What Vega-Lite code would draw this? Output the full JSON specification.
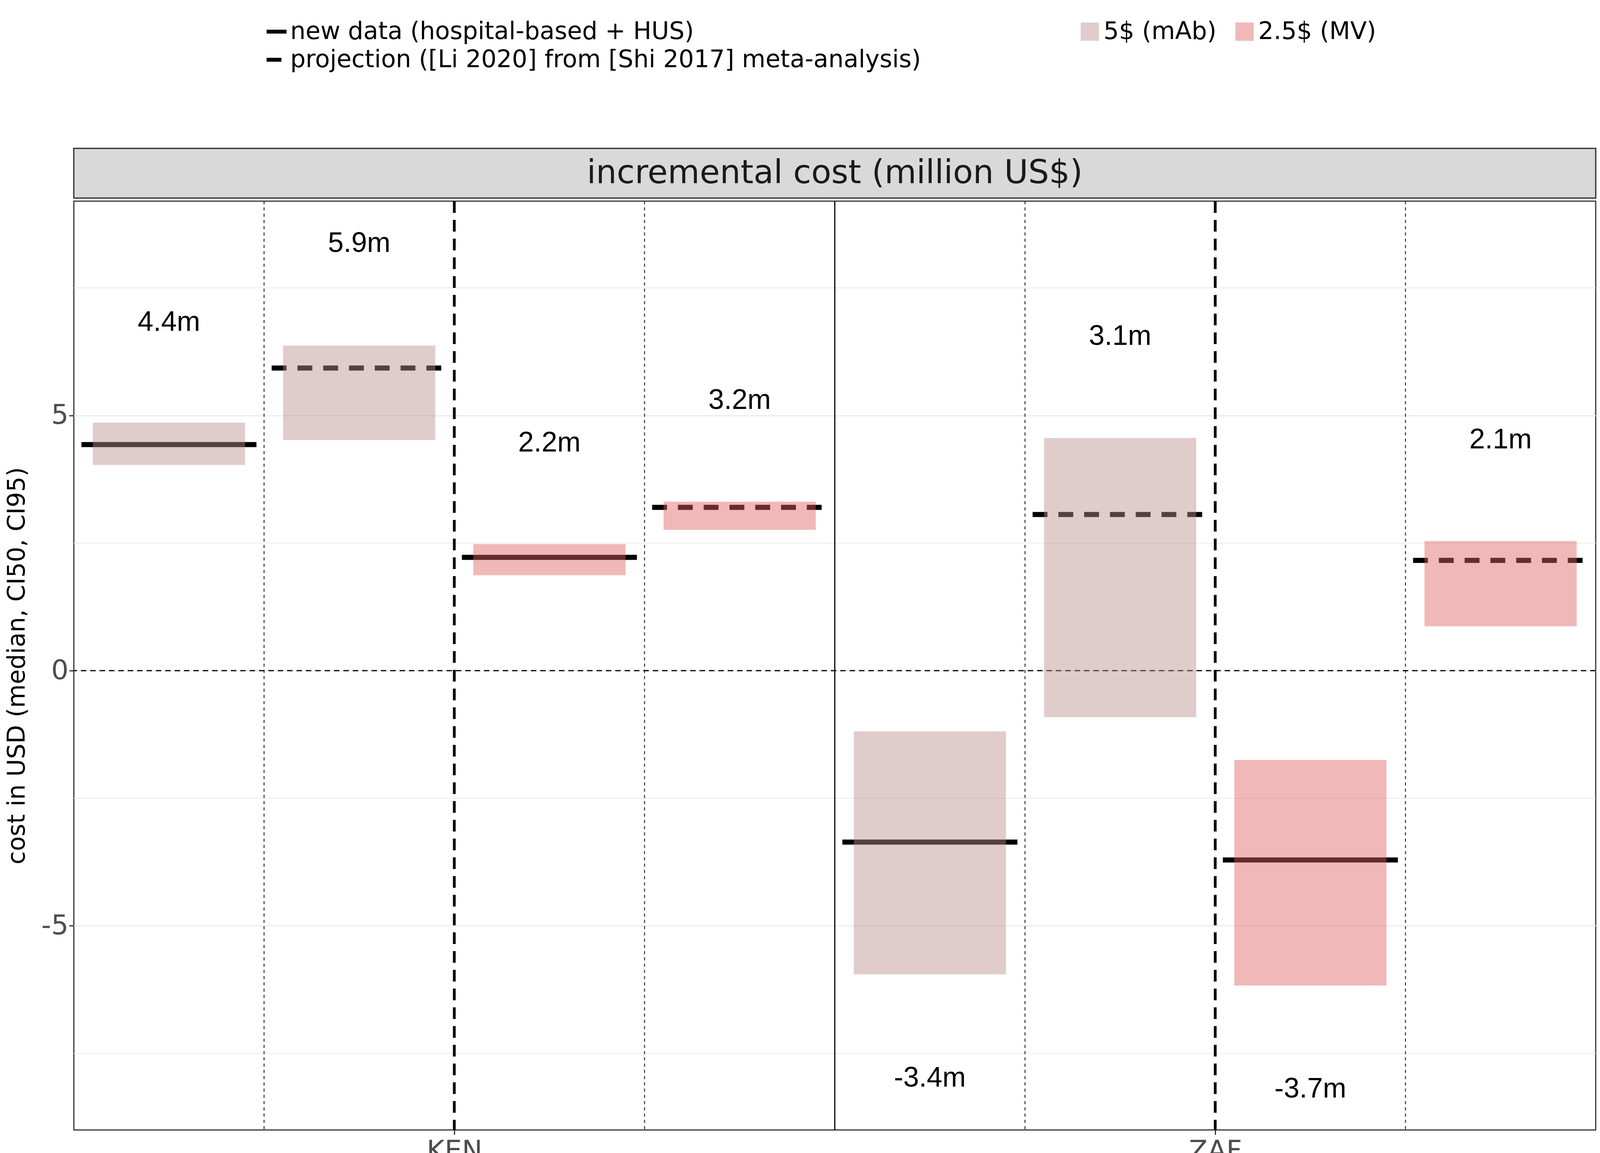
{
  "$schema": "https://vega.github.io/schema/vega-lite/v6.json",
  "background": "#ffffff",
  "padding": {"left": 10, "top": 50, "right": 10, "bottom": 10},
  "spacing": 0,
  "datasets": {
    "costs": [
      {"slot": 0, "country": "KEN", "price": "5$ (mAb)", "source": "new data (hospital-based + HUS)", "median": 4.43, "low": 4.03, "high": 4.86, "label": "4.4m", "label_y": 6.83},
      {"slot": 1, "country": "KEN", "price": "5$ (mAb)", "source": "projection ([Li 2020] from [Shi 2017] meta-analysis)", "median": 5.93, "low": 4.52, "high": 6.37, "label": "5.9m", "label_y": 8.37},
      {"slot": 2, "country": "KEN", "price": "2.5$ (MV)", "source": "new data (hospital-based + HUS)", "median": 2.22, "low": 1.87, "high": 2.48, "label": "2.2m", "label_y": 4.46},
      {"slot": 3, "country": "KEN", "price": "2.5$ (MV)", "source": "projection ([Li 2020] from [Shi 2017] meta-analysis)", "median": 3.2, "low": 2.76, "high": 3.31, "label": "3.2m", "label_y": 5.3},
      {"slot": 4, "country": "ZAF", "price": "5$ (mAb)", "source": "new data (hospital-based + HUS)", "median": -3.36, "low": -5.95, "high": -1.19, "label": "-3.4m", "label_y": -7.98},
      {"slot": 5, "country": "ZAF", "price": "5$ (mAb)", "source": "projection ([Li 2020] from [Shi 2017] meta-analysis)", "median": 3.06, "low": -0.91, "high": 4.56, "label": "3.1m", "label_y": 6.55},
      {"slot": 6, "country": "ZAF", "price": "2.5$ (MV)", "source": "new data (hospital-based + HUS)", "median": -3.71, "low": -6.17, "high": -1.75, "label": "-3.7m", "label_y": -8.2},
      {"slot": 7, "country": "ZAF", "price": "2.5$ (MV)", "source": "projection ([Li 2020] from [Shi 2017] meta-analysis)", "median": 2.16, "low": 0.87, "high": 2.54, "label": "2.1m", "label_y": 4.52}
    ],
    "dividers": [
      {"at": 1, "kind": "minor"}, {"at": 3, "kind": "minor"}, {"at": 5, "kind": "minor"}, {"at": 7, "kind": "minor"},
      {"at": 2, "kind": "country"}, {"at": 6, "kind": "country"},
      {"at": 4, "kind": "group"}
    ],
    "minorgrid": [{"v": -7.5}, {"v": -2.5}, {"v": 2.5}, {"v": 7.5}],
    "strip": [{"title": "incremental cost (million US$)"}]
  },
  "vconcat": [
    {
      "width": 3896,
      "height": 127,
      "data": {"name": "strip"},
      "layer": [
        {
          "mark": {"type": "rect", "fill": "#d9d9d9", "stroke": "#333333", "strokeWidth": 3},
          "encoding": {
            "x": {"datum": 0, "type": "quantitative", "scale": {"domain": [0, 1]}, "axis": null},
            "x2": {"datum": 1},
            "y": {"datum": 0, "type": "quantitative", "scale": {"domain": [0, 1]}, "axis": null},
            "y2": {"datum": 1}
          }
        },
        {
          "mark": {"type": "text", "fontSize": 84, "font": "DejaVu Sans", "color": "#1a1a1a"},
          "encoding": {
            "x": {"datum": 0.5, "type": "quantitative"},
            "y": {"datum": 0.5, "type": "quantitative"},
            "text": {"field": "title"}
          }
        }
      ]
    },
    {
      "width": 3896,
      "height": 2378,
      "layer": [
        {
          "data": {"name": "minorgrid"},
          "mark": {"type": "rule", "color": "#ebebeb", "strokeWidth": 2},
          "encoding": {"y": {"field": "v", "type": "quantitative"}}
        },
        {
          "data": {"name": "dividers"},
          "transform": [{"filter": "datum.kind == 'minor'"}],
          "mark": {"type": "rule", "color": "#333333", "strokeWidth": 2.5, "strokeDash": [8, 8]},
          "encoding": {"x": {"field": "at", "type": "quantitative"}}
        },
        {
          "data": {"name": "dividers"},
          "transform": [{"filter": "datum.kind == 'country'"}],
          "mark": {"type": "rule", "color": "#000000", "strokeWidth": 7, "strokeDash": [30, 18]},
          "encoding": {"x": {"field": "at", "type": "quantitative"}}
        },
        {
          "data": {"name": "dividers"},
          "transform": [{"filter": "datum.kind == 'group'"}],
          "mark": {"type": "rule", "color": "#000000", "strokeWidth": 3},
          "encoding": {"x": {"field": "at", "type": "quantitative"}}
        },
        {
          "data": {"values": [{"v": 0}]},
          "mark": {"type": "rule", "color": "#000000", "strokeWidth": 3, "strokeDash": [14, 10]},
          "encoding": {"y": {"field": "v", "type": "quantitative"}}
        },
        {
          "data": {"name": "costs"},
          "transform": [
            {"calculate": "datum.slot + 0.04", "as": "line_lo"},
            {"calculate": "datum.slot + 0.96", "as": "line_hi"}
          ],
          "mark": {"type": "rule", "color": "#000000", "strokeWidth": 13},
          "encoding": {
            "x": {"field": "line_lo", "type": "quantitative"},
            "x2": {"field": "line_hi"},
            "y": {"field": "median", "type": "quantitative"},
            "strokeDash": {
              "field": "source",
              "type": "nominal",
              "title": null,
              "scale": {
                "domain": ["new data (hospital-based + HUS)", "projection ([Li 2020] from [Shi 2017] meta-analysis)"],
                "range": [[1, 0], [38, 28]]
              },
              "legend": {
                "orient": "none",
                "legendX": 488,
                "legendY": -330,
                "direction": "vertical",
                "symbolType": "stroke",
                "symbolStrokeWidth": 10,
                "symbolSize": 2600,
                "labelFontSize": 62,
                "labelFont": "DejaVu Sans",
                "labelColor": "#000000",
                "labelLimit": 0,
                "rowPadding": 10
              }
            }
          }
        },
        {
          "data": {"name": "costs"},
          "transform": [
            {"calculate": "datum.slot + 0.1", "as": "bar_lo"},
            {"calculate": "datum.slot + 0.9", "as": "bar_hi"}
          ],
          "mark": {"type": "rect", "opacity": 0.45},
          "encoding": {
            "x": {"field": "bar_lo", "type": "quantitative"},
            "x2": {"field": "bar_hi"},
            "y": {"field": "low", "type": "quantitative"},
            "y2": {"field": "high"},
            "fill": {
              "field": "price",
              "type": "nominal",
              "title": null,
              "scale": {"domain": ["5$ (mAb)", "2.5$ (MV)"], "range": ["#bc8f8f", "#e06262"]},
              "legend": {
                "orient": "none",
                "legendX": 2570,
                "legendY": -330,
                "direction": "horizontal",
                "symbolType": "square",
                "symbolSize": 2200,
                "symbolOpacity": 0.45,
                "labelFontSize": 62,
                "labelFont": "DejaVu Sans",
                "labelColor": "#000000",
                "labelLimit": 0,
                "columnPadding": 40
              }
            }
          }
        },
        {
          "data": {"name": "costs"},
          "transform": [{"calculate": "datum.slot + 0.5", "as": "mid"}],
          "mark": {"type": "text", "fontSize": 72, "font": "Liberation Sans", "color": "#000000"},
          "encoding": {
            "x": {"field": "mid", "type": "quantitative"},
            "y": {"field": "label_y", "type": "quantitative"},
            "text": {"field": "label"}
          }
        }
      ],
      "encoding": {
        "x": {
          "type": "quantitative",
          "scale": {"domain": [0, 8], "nice": false, "zero": false},
          "axis": {
            "title": null,
            "values": [2, 6],
            "labelExpr": "datum.value == 2 ? 'KEN' : 'ZAF'",
            "grid": false,
            "labelFontSize": 70,
            "labelFont": "DejaVu Sans",
            "labelColor": "#4d4d4d",
            "tickColor": "#333333",
            "tickSize": 12,
            "tickWidth": 3,
            "domain": false,
            "labelPadding": 8
          }
        },
        "y": {
          "type": "quantitative",
          "scale": {"domain": [-9, 9.2], "nice": false},
          "axis": {
            "title": "cost in USD (median, CI50, CI95)",
            "titleFontSize": 62,
            "titleFontWeight": "normal",
            "titleFont": "DejaVu Sans",
            "titleColor": "#000000",
            "titlePadding": 30,
            "values": [-5, 0, 5],
            "labelExpr": "replace(datum.label, '−', '-')",
            "grid": true,
            "gridColor": "#ebebeb",
            "gridWidth": 3,
            "labelFontSize": 70,
            "labelFont": "DejaVu Sans",
            "labelColor": "#4d4d4d",
            "tickColor": "#333333",
            "tickSize": 12,
            "tickWidth": 3,
            "domain": false
          }
        }
      }
    }
  ],
  "config": {
    "view": {"stroke": "#333333", "strokeWidth": 3},
    "concat": {"spacing": 0}
  }
}
